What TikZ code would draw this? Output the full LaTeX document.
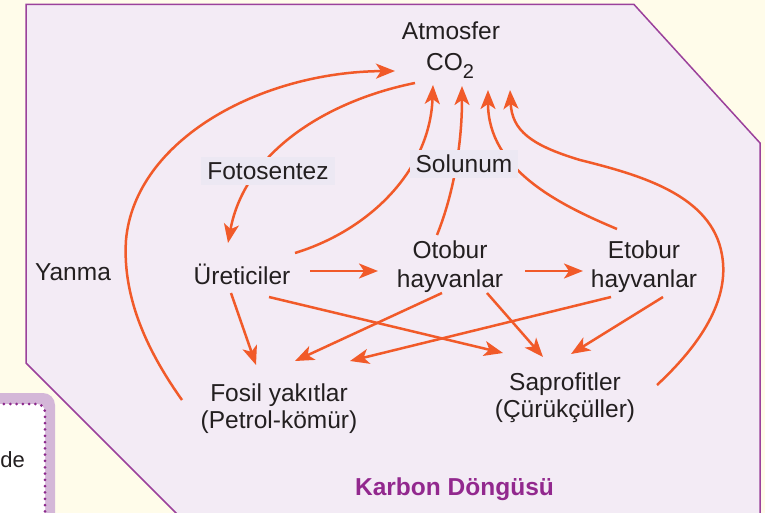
\documentclass[tikz,border=0pt]{standalone}
\usepackage{fontspec}
\setmainfont{Liberation Sans}
\usetikzlibrary{arrows.meta,calc}
\definecolor{cream}{RGB}{255,252,234}
\definecolor{lav}{RGB}{243,235,245}
\definecolor{lavlab}{RGB}{236,232,243}
\definecolor{border}{RGB}{155,65,155}
\definecolor{orng}{RGB}{241,90,41}
\definecolor{ttlc}{RGB}{146,40,142}
\definecolor{band}{RGB}{212,183,216}
\definecolor{dotc}{RGB}{140,40,140}
\definecolor{ink}{RGB}{35,31,32}
\begin{document}
\begin{tikzpicture}[x=1pt,y=-1pt,
  lbl/.style={anchor=base,inner sep=0pt,text=ink},
  boxlbl/.style={lbl,fill=lavlab,inner xsep=6pt,inner ysep=5pt,text height=18pt,text depth=0pt},
  flow/.style={draw=orng,line width=2.5pt,-{Stealth[length=19pt,width=15pt,inset=5pt]}},
  font=\fontsize{24.5}{29}\selectfont]
\useasboundingbox (0,0) rectangle (765,513);
\clip (0,0) rectangle (765,513);
\fill[cream] (0,0) rectangle (765,513);
\filldraw[fill=lav,draw=border,line width=1.5pt] (26,4.5) -- (634,4.5) -- (760,143) -- (760,530) -- (193,530) -- (26,363) -- cycle;
\fill[band,rounded corners=12pt] (-30,393) rectangle (55,560);
\filldraw[fill=white,draw=dotc,line width=3pt,line cap=round,dash pattern=on 0pt off 6.3pt,rounded corners=8pt] (-30,404) rectangle (45,560);
\node[lbl,anchor=base east,font=\fontsize{22}{26}\selectfont] (de) at (25,467) {de};
% text nodes
\node[lbl] (atm) at (451,40) {Atmosfer};
\node[lbl] (co2) at (450,71) {CO\raisebox{-8pt}{\fontsize{20}{20}\selectfont 2}};
\node[lbl] (yan) at (73,280) {Yanma};
\node[lbl] (ure) at (242,284) {Üreticiler};
\node[lbl] (oto) at (450,258) {Otobur};
\node[lbl] (otoh) at (450,287) {hayvanlar};
\node[lbl] (eto) at (644,258) {Etobur};
\node[lbl] (etoh) at (644,287) {hayvanlar};
\node[lbl] (fos) at (279,401) {Fosil yakıtlar};
\node[lbl] (fosp) at (279,428) {(Petrol-kömür)};
\node[lbl] (sap) at (565,390) {Saprofitler};
\node[lbl] (sapc) at (565,417) {(Çürükçüller)};
\node[lbl,text=ttlc,font=\fontsize{24.5}{29}\selectfont\bfseries] (ttl) at (454.5,495) {Karbon Döngüsü};
% curved flows
\draw[flow] ($(fos.base)+(-97,-1)$) .. controls +(-32,-45) and +(-4,60) .. ($(yan.base)+(53,-40)$) .. controls +(9,-100) and +(-135,1) .. ($(co2.base)+(-55,0)$);
\draw[flow] ($(co2.base)+(-35,12)$) .. controls +(-85,17) and +(17,-93) .. ($(ure.base)+(-14,-41)$);
\draw[flow] ($(ure.base)+(53,-31)$) .. controls +(75,-23) and +(-3,85) .. ($(co2.base)+(-17,14)$);
\draw[flow] ($(oto.base)+(-13,-23)$) .. controls +(18,-45) and +(0,54) .. ($(co2.base)+(12,15)$);
\draw[flow] ($(eto.base)+(-27,-29)$) .. controls +(-57,-24) and +(0,80) .. ($(co2.base)+(38,19)$);
\draw[flow] ($(sap.base)+(92,-5)$) .. controls +(43,-40) and +(8,45) .. ($(eto.base)+(78,-3)$) .. controls +(-10,-60) and +(60,15) .. ($(eto.base)+(-64,-98)$) .. controls +(-50,-15) and +(2,40) .. ($(co2.base)+(60,19)$);
% straight flows
\draw[flow] ($(ure.base)+(68,-13)$) -- ($(otoh.base)+(-72,-16)$);
\draw[flow] ($(otoh.base)+(75,-16)$) -- ($(etoh.base)+(-61,-16)$);
\draw[flow] ($(ure.base)+(-11,9)$) -- ($(fos.base)+(-23,-36)$);
\draw[flow] ($(ure.base)+(27,13)$) -- ($(sap.base)+(-62,-37)$);
\draw[flow] ($(otoh.base)+(-8,6)$) -- ($(fos.base)+(16,-40)$);
\draw[flow] ($(etoh.base)+(-33,10)$) -- ($(fos.base)+(71,-40)$);
\draw[flow] ($(otoh.base)+(37,6)$) -- ($(sap.base)+(-22,-33)$);
\draw[flow] ($(etoh.base)+(19,10)$) -- ($(sap.base)+(6,-36)$);
% process labels on top
\node[boxlbl] (foto) at (268,180) {Fotosentez};
\node[boxlbl] (sol) at (464,173) {Solunum};
\end{tikzpicture}
\end{document}
